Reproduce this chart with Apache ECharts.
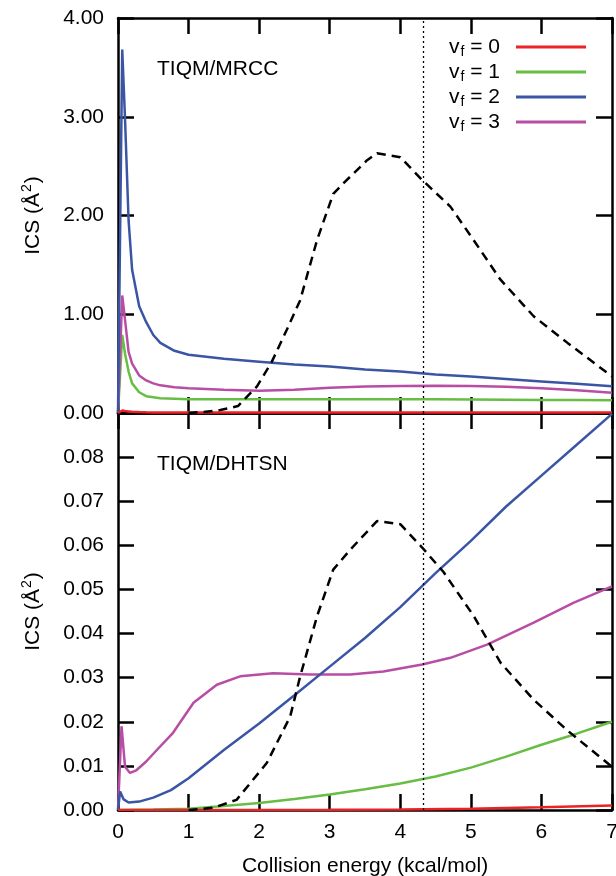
<!DOCTYPE html>
<html>
<head>
<meta charset="utf-8">
<script src="https://cdn.jsdelivr.net/npm/echarts@6/dist/echarts.min.js"></script>
<style>
html,body{margin:0;padding:0;background:#fff;}
#c{width:616px;height:876px;}
</style>
</head>
<body>
<div id="c"></div>
<script>
// ---- Data ----
const xTicks = [0, 1, 2, 3, 4, 5, 6, 7];
const legendNames = ['v_f = 0', 'v_f = 1', 'v_f = 2', 'v_f = 3'];
const panelLabels = ['TIQM/MRCC', 'TIQM/DHTSN'];
const markerEnergy = 4.32;

// Top panel (TIQM/MRCC)
const mrccE   = [0, 0.06, 0.1, 0.15, 0.2, 0.3, 0.4, 0.5, 0.6, 0.8, 1.0, 1.5, 2.0, 2.5, 3.0, 3.5, 4.0, 4.5, 5.0, 5.5, 6.0, 6.5, 7.0];
const mrccV0  = [0, 0.025, 0.02, 0.016, 0.012, 0.009, 0.007, 0.006, 0.006, 0.005, 0.005, 0.005, 0.005, 0.005, 0.005, 0.005, 0.005, 0.005, 0.005, 0.005, 0.005, 0.005, 0.005];
const mrccV1  = [0, 0.79, 0.60, 0.42, 0.30, 0.21, 0.17, 0.16, 0.15, 0.145, 0.14, 0.14, 0.14, 0.14, 0.14, 0.14, 0.139, 0.138, 0.136, 0.134, 0.132, 0.131, 0.13];
const mrccV2  = [0, 3.68, 2.97, 1.95, 1.45, 1.08, 0.92, 0.79, 0.71, 0.63, 0.59, 0.55, 0.52, 0.49, 0.47, 0.44, 0.42, 0.39, 0.37, 0.345, 0.32, 0.295, 0.27];
const mrccV3  = [0, 1.19, 0.94, 0.62, 0.50, 0.38, 0.33, 0.30, 0.28, 0.26, 0.25, 0.235, 0.225, 0.235, 0.255, 0.268, 0.274, 0.276, 0.274, 0.265, 0.25, 0.23, 0.206];
const mrccDistE = [1.0, 1.2, 1.45, 1.7, 1.97, 2.18, 2.39, 2.58, 2.82, 3.05, 3.2, 3.53, 3.67, 4.0, 4.31, 4.71, 5.04, 5.42, 5.89, 6.37, 7.0];
const mrccDist  = [0, 0.01, 0.03, 0.07, 0.27, 0.52, 0.84, 1.14, 1.75, 2.22, 2.33, 2.56, 2.63, 2.59, 2.36, 2.09, 1.75, 1.35, 0.98, 0.71, 0.37];

// Bottom panel (TIQM/DHTSN)
const dhtsnE0  = [0, 1, 2, 3, 4, 5, 6, 7];
const dhtsnV0  = [0, 0, 0.00002, 0.00005, 0.0001, 0.0003, 0.0006, 0.001];
const dhtsnE1  = [0, 0.5, 1.0, 1.5, 2.0, 2.5, 3.0, 3.5, 4.0, 4.5, 5.0, 5.5, 6.0, 6.5, 7.0];
const dhtsnV1  = [0, 0.0001, 0.0003, 0.0009, 0.0016, 0.0025, 0.0035, 0.0047, 0.006, 0.0076, 0.0096, 0.0121, 0.0148, 0.0173, 0.02];
const dhtsnE2  = [0, 0.03, 0.08, 0.15, 0.3, 0.5, 0.75, 1.0, 1.5, 2.0, 2.5, 3.0, 3.5, 4.0, 4.5, 5.0, 5.5, 6.0, 6.5, 7.0];
const dhtsnV2  = [0, 0.0042, 0.0024, 0.0017, 0.0019, 0.0028, 0.0045, 0.0072, 0.0136, 0.0196, 0.026, 0.0325, 0.039, 0.046, 0.0537, 0.061, 0.0688, 0.0758, 0.0828, 0.0898];
const dhtsnE3  = [0, 0.05, 0.1, 0.17, 0.26, 0.4, 0.55, 0.78, 1.07, 1.4, 1.73, 2.2, 2.72, 3.29, 3.76, 4.31, 4.71, 5.23, 5.89, 6.46, 7.0];
const dhtsnV3  = [0, 0.019, 0.0098, 0.0084, 0.009, 0.011, 0.0136, 0.0175, 0.0243, 0.0284, 0.0303, 0.031, 0.0307, 0.0307, 0.0314, 0.033, 0.0345, 0.0375, 0.0425, 0.047, 0.0507];
const dhtsnDistE = [1.0, 1.35, 1.68, 2.11, 2.44, 2.58, 2.82, 3.05, 3.29, 3.67, 4.0, 4.31, 4.61, 5.04, 5.42, 5.89, 6.37, 6.93, 7.0];
const dhtsnDist  = [0, 0.0005, 0.0023, 0.0107, 0.0212, 0.0302, 0.0439, 0.0545, 0.059, 0.0655, 0.0648, 0.0595, 0.054, 0.044, 0.0334, 0.025, 0.018, 0.0107, 0.0098];

// ---- Styling ----
const FONT = '"Liberation Sans", Arial, Helvetica, sans-serif';
const colors = ['#ec2227', '#68bd45', '#3b55a5', '#b84ea4'];
const zip = (xs, ys) => xs.map((x, i) => [x, ys[i]]);

const tickStyle = {show: true, inside: true, length: 16, lineStyle: {color: '#000', width: 2.5}};
const lineStyleAxis = {show: true, onZero: false, lineStyle: {color: '#000', width: 2.5}};

function xAx(grid, pos, labels, extra) {
  return Object.assign({
    type: 'value', gridIndex: grid, position: pos, min: 0, max: 7, interval: 1,
    axisLine: lineStyleAxis, axisTick: tickStyle, splitLine: {show: false},
    axisLabel: {show: labels, color: '#000', fontSize: 21, fontFamily: FONT, margin: 12}
  }, extra || {});
}
const yName = {
  name: '{a|ICS (Å}{b|2}{a|)}', nameLocation: 'middle', nameRotate: 90, nameGap: 72,
  nameTextStyle: {color: '#000', fontFamily: FONT, fontSize: 21,
    rich: {a: {fontSize: 21, fontFamily: FONT, color: '#000'},
           b: {fontSize: 14, fontFamily: FONT, color: '#000', padding: [0, 1, 12, 1]}}}
};
function yAx(grid, pos, labels, max, interval, fmt, extra) {
  return Object.assign({
    type: 'value', gridIndex: grid, position: pos, min: 0, max: max, interval: interval,
    axisLine: lineStyleAxis, axisTick: tickStyle, splitLine: {show: false},
    axisLabel: {show: labels, color: '#000', fontSize: 21, fontFamily: FONT, margin: 14, formatter: fmt}
  }, extra || {});
}

function lineSeries(name, xi, yi, data, color, extra) {
  return Object.assign({
    name: name, type: 'line', xAxisIndex: xi, yAxisIndex: yi, data: data,
    symbol: 'none', showSymbol: false, smooth: false, silent: true,
    lineStyle: {color: color, width: 2.5}, itemStyle: {color: color}, z: 3
  }, extra || {});
}
const markerLine = {
  silent: true, symbol: 'none', label: {show: false},
  lineStyle: {color: '#000', width: 1.3, type: [2, 3]},
  data: [{xAxis: markerEnergy}]
};
function distSeries(xi, yi, data) {
  return lineSeries('dist', xi, yi, data, '#000', {
    lineStyle: {color: '#000', width: 2.5, type: [9, 6]}, z: 4, markLine: markerLine
  });
}

const option = {
  animation: false,
  backgroundColor: '#fff',
  textStyle: {fontFamily: FONT, color: '#000'},
  title: [
    {text: panelLabels[0], left: 157, top: 59, padding: 0, textStyle: {fontSize: 21, fontWeight: 'normal', color: '#000', fontFamily: FONT}},
    {text: panelLabels[1], left: 157, top: 454, padding: 0, textStyle: {fontSize: 21, fontWeight: 'normal', color: '#000', fontFamily: FONT}}
  ],
  legend: {
    data: legendNames, orient: 'vertical', align: 'right', right: 30, top: 35, padding: 0,
    itemGap: 1, itemWidth: 70, itemHeight: 3, icon: 'rect', selectedMode: false,
    formatter: function (n) { return '{v|v}{s|f}{e| = ' + n.slice(-1) + '}'; },
    textStyle: {color: '#000', fontFamily: FONT, fontSize: 21,
      rich: {
        v: {fontSize: 21, lineHeight: 21, fontFamily: FONT, color: '#000'},
        s: {fontSize: 14, lineHeight: 21, fontFamily: FONT, color: '#000', padding: [10, 0, 0, 1]},
        e: {fontSize: 21, lineHeight: 21, fontFamily: FONT, color: '#000', padding: [0, 11, 0, 0]}
      }}
  },
  grid: [
    {left: 118, right: 4, top: 18, height: 395, outerBoundsMode: 'none', containLabel: false},
    {left: 118, right: 4, top: 413, height: 397, outerBoundsMode: 'none', containLabel: false}
  ],
  xAxis: [
    xAx(0, 'bottom', false),
    xAx(0, 'top', false),
    xAx(1, 'bottom', true, {
      name: 'Collision energy (kcal/mol)', nameLocation: 'middle', nameGap: 46,
      nameTextStyle: {color: '#000', fontSize: 21, fontFamily: FONT}
    }),
    xAx(1, 'top', false)
  ],
  yAxis: [
    yAx(0, 'left', true, 4, 1, v => v.toFixed(2), yName),
    yAx(0, 'right', false, 4, 1),
    yAx(1, 'left', true, 0.09, 0.01, v => (v > 0.085 ? '' : v.toFixed(2)), yName),
    yAx(1, 'right', false, 0.09, 0.01)
  ],
  series: [
    lineSeries(legendNames[1], 0, 0, zip(mrccE, mrccV1), colors[1]),
    lineSeries(legendNames[3], 0, 0, zip(mrccE, mrccV3), colors[3]),
    lineSeries(legendNames[2], 0, 0, zip(mrccE, mrccV2), colors[2]),
    lineSeries(legendNames[0], 0, 0, zip(mrccE, mrccV0), colors[0]),
    distSeries(0, 0, zip(mrccDistE, mrccDist)),
    lineSeries(legendNames[1], 2, 2, zip(dhtsnE1, dhtsnV1), colors[1]),
    lineSeries(legendNames[3], 2, 2, zip(dhtsnE3, dhtsnV3), colors[3]),
    lineSeries(legendNames[2], 2, 2, zip(dhtsnE2, dhtsnV2), colors[2]),
    lineSeries(legendNames[0], 2, 2, zip(dhtsnE0, dhtsnV0), colors[0]),
    distSeries(2, 2, zip(dhtsnDistE, dhtsnDist))
  ]
};

const chart = echarts.init(document.getElementById('c'), null, {renderer: 'canvas'});
chart.setOption(option);
</script>
</body>
</html>
